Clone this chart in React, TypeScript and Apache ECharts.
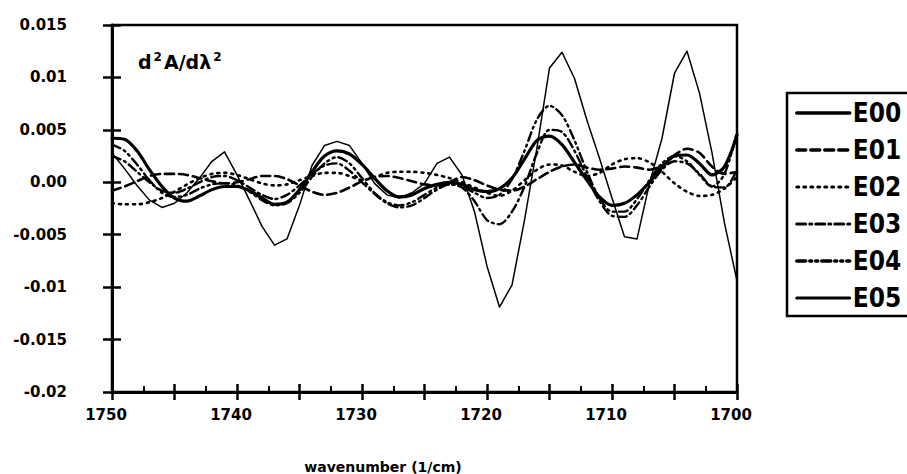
import React, { useEffect, useRef } from "react";
import * as echarts from "echarts";

const wavenumbers: number[] = [
  1750, 1749, 1748, 1747, 1746, 1745, 1744, 1743, 1742, 1741,
  1740, 1739, 1738, 1737, 1736, 1735, 1734, 1733, 1732, 1731,
  1730, 1729, 1728, 1727, 1726, 1725, 1724, 1723, 1722, 1721,
  1720, 1719, 1718, 1717, 1716, 1715, 1714, 1713, 1712, 1711,
  1710, 1709, 1708, 1707, 1706, 1705, 1704, 1703, 1702, 1701, 1700,
];

const E00: number[] = [
  0.0042, 0.0041, 0.0030, 0.0012, -0.0004, -0.0015, -0.0018, -0.0013, -0.0007, -0.0004,
  -0.0004, -0.0008, -0.0015, -0.0021, -0.0019, -0.0007, 0.0010, 0.0025, 0.0030, 0.0027,
  0.0017, 0.0004, -0.0008, -0.0014, -0.0012, -0.0006, -0.0002, 0.0000, -0.0002, -0.0007,
  -0.0009, -0.0006, 0.0004, 0.0022, 0.0040, 0.0044, 0.0036, 0.0019, 0.0002, -0.0014,
  -0.0022, -0.0020, -0.0012, 0.0000, 0.0014, 0.0025, 0.0026, 0.0018, 0.0007, 0.0015, 0.0045,
];

const E01: number[] = [
  -0.0008, -0.0004, 0.0001, 0.0006, 0.0008, 0.0008, 0.0007, 0.0004, 0.0001, -0.0001,
  0.0000, 0.0003, 0.0006, 0.0006, 0.0003, -0.0003, -0.0009, -0.0012, -0.0010, -0.0005,
  0.0001, 0.0005, 0.0006, 0.0004, 0.0001, -0.0002, -0.0003, 0.0000, 0.0005, 0.0002,
  -0.0003, -0.0007, -0.0008, -0.0004, 0.0003, 0.0010, 0.0015, 0.0017, 0.0014, 0.0012,
  0.0013, 0.0015, 0.0014, 0.0012, 0.0016, 0.0026, 0.0032, 0.0028, 0.0015, 0.0008, 0.0010,
];

const E02: number[] = [
  -0.0020, -0.0021, -0.0021, -0.0019, -0.0015, -0.0009, -0.0002, 0.0004, 0.0008, 0.0009,
  0.0007, 0.0003, -0.0001, -0.0003, -0.0002, 0.0002, 0.0006, 0.0009, 0.0009, 0.0006,
  0.0002, 0.0005, 0.0009, 0.0010, 0.0010, 0.0009, 0.0007, 0.0004, 0.0000, -0.0005,
  -0.0010, -0.0013, -0.0008, 0.0002, 0.0012, 0.0017, 0.0016, 0.0010, 0.0006, 0.0009,
  0.0017, 0.0022, 0.0023, 0.0019, 0.0010, -0.0001, -0.0009, -0.0013, -0.0012, -0.0006, 0.0005,
];

const E03: number[] = [
  0.0025, 0.0020, 0.0010, 0.0000, -0.0008, -0.0010, -0.0006, 0.0000, 0.0005, 0.0006,
  0.0002, -0.0005, -0.0012, -0.0016, -0.0012, -0.0003, 0.0008, 0.0016, 0.0018, 0.0011,
  0.0000, -0.0011, -0.0020, -0.0024, -0.0022, -0.0015, -0.0007, -0.0002, -0.0005, -0.0018,
  -0.0036, -0.0040, -0.0028, -0.0004, 0.0028, 0.0050, 0.0048, 0.0030, 0.0005, -0.0018,
  -0.0032, -0.0033, -0.0022, -0.0004, 0.0012, 0.0020, 0.0018, 0.0008, -0.0004, -0.0005, 0.0012,
];

const E04: number[] = [
  0.0036, 0.0030, 0.0017, 0.0002, -0.0010, -0.0014, -0.0012, -0.0006, -0.0002, -0.0001,
  -0.0003, -0.0009, -0.0017, -0.0022, -0.0020, -0.0010, 0.0005, 0.0018, 0.0024, 0.0018,
  0.0004, -0.0010, -0.0019, -0.0022, -0.0019, -0.0012, -0.0005, -0.0002, -0.0004, -0.0010,
  -0.0015, -0.0012, 0.0003, 0.0030, 0.0060, 0.0073, 0.0064, 0.0040, 0.0010, -0.0015,
  -0.0028, -0.0028, -0.0016, 0.0002, 0.0018, 0.0025, 0.0020, 0.0007, -0.0004, 0.0008, 0.0048,
];

const E05: number[] = [
  0.0028, 0.0013, -0.0003, -0.0017, -0.0024, -0.0020, -0.0010, 0.0004, 0.0020, 0.0029,
  0.0007, -0.0017, -0.0042, -0.0060, -0.0054, -0.0022, 0.0016, 0.0035, 0.0039, 0.0035,
  0.0018, -0.0001, -0.0012, -0.0015, -0.0010, -0.0001, 0.0018, 0.0024, 0.0007, -0.0028,
  -0.0080, -0.0119, -0.0098, -0.0036, 0.0033, 0.0109, 0.0124, 0.0099, 0.0059, 0.0023,
  -0.0015, -0.0052, -0.0054, -0.0001, 0.0042, 0.0104, 0.0125, 0.0085, 0.0028, -0.0039, -0.0094,
];

const seriesNames: string[] = ["E00", "E01", "E02", "E03", "E04", "E05"];
const xTickLabels: string[] = ["1750", "1740", "1730", "1720", "1710", "1700"];
const yTickLabels: string[] = ["-0.02", "-0.015", "-0.01", "-0.005", "0.00", "0.005", "0.01", "0.015"];

const FONT = "'DejaVu Sans', 'Liberation Sans', sans-serif";
const LEGEND_FONT = "'DejaVu Sans Condensed', 'Liberation Sans Narrow', 'DejaVu Sans', sans-serif";

export default function App() {
  const ref = useRef<HTMLDivElement>(null);

  useEffect(() => {
    if (!ref.current) return;
    const chart = echarts.init(ref.current, undefined, { renderer: "svg" });

    const values = [E00, E01, E02, E03, E04, E05];
    const styles: any[] = [
      { width: 3.2, type: "solid", legendWidth: 3.5 },
      { width: 2.6, type: [9, 5], legendWidth: 3.5 },
      { width: 2.6, type: [2, 5], legendWidth: 3 },
      { width: 2.4, type: [9, 4, 2, 4], legendWidth: 3 },
      { width: 2.4, type: [9, 4, 2, 4, 2, 4], legendWidth: 3.5 },
      { width: 1.5, type: "solid", legendWidth: 3 },
    ];

    const series = seriesNames.map((name, i) => ({
      name,
      type: "line",
      xAxisIndex: 0,
      yAxisIndex: 0,
      symbol: "none",
      smooth: i === 5 ? false : 0.3,
      lineStyle: { color: "#000", width: styles[i].width, type: styles[i].type, cap: "round", join: "round" },
      itemStyle: { color: "#000" },
      data: wavenumbers.map((w, k) => [w, values[i][k]]),
      z: 3,
    }));

    const legendData = seriesNames.map((name, i) => ({
      name,
      itemStyle: { opacity: 0 },
      lineStyle: { color: "#000", width: styles[i].legendWidth, type: styles[i].type, cap: "round" },
    }));

    const yLabel = (v: number) => {
      const idx = Math.round((v + 0.02) / 0.005);
      return yTickLabels[idx] ?? "";
    };

    const option: any = {
      animation: false,
      backgroundColor: "#fff",
      grid: {
        left: 112,
        right: 170,
        top: 25,
        bottom: 82,
        show: true,
        borderColor: "#000",
        borderWidth: 2.5,
        backgroundColor: "transparent",
      },
      xAxis: [
        {
          type: "value",
          min: 1700,
          max: 1750,
          interval: 5,
          inverse: true,
          position: "bottom",
          axisLine: { show: true, onZero: false, lineStyle: { color: "#000", width: 3 } },
          axisTick: { show: true, inside: false, length: 8, lineStyle: { color: "#000", width: 2.5 } },
          splitLine: { show: false },
          axisLabel: {
            show: true,
            margin: 15,
            padding: [0, 12, 0, 0],
            color: "#000",
            fontFamily: FONT,
            fontWeight: "bold",
            fontSize: 15,
            showMinLabel: true,
            showMaxLabel: true,
            formatter: (v: number) => (xTickLabels.includes(String(Math.round(v))) ? String(Math.round(v)) : ""),
          },
        },
        {
          type: "value",
          min: 1700,
          max: 1750,
          interval: 5,
          inverse: true,
          position: "bottom",
          axisLine: { show: false, onZero: false },
          axisTick: { show: true, inside: true, length: 8, lineStyle: { color: "#000", width: 2.5 } },
          minorTick: { show: true, splitNumber: 2, length: 6, lineStyle: { color: "#000", width: 2 } },
          splitLine: { show: false },
          minorSplitLine: { show: false },
          axisLabel: { show: false },
        },
      ],
      yAxis: [
        {
          type: "value",
          min: -0.02,
          max: 0.015,
          interval: 0.005,
          position: "left",
          axisLine: { show: true, onZero: false, lineStyle: { color: "#000", width: 3 } },
          axisTick: { show: true, inside: false, length: 9, lineStyle: { color: "#000", width: 2.5 } },
          splitLine: { show: false },
          axisLabel: {
            show: true,
            margin: 45,
            padding: [0, 0, 12, 0],
            color: "#000",
            fontFamily: FONT,
            fontWeight: "bold",
            fontSize: 15,
            formatter: yLabel,
          },
        },
        {
          type: "value",
          min: -0.02,
          max: 0.015,
          interval: 0.005,
          position: "left",
          axisLine: { show: false, onZero: false },
          axisTick: { show: true, inside: true, length: 9, lineStyle: { color: "#000", width: 2.5 } },
          splitLine: { show: false },
          axisLabel: { show: false },
        },
      ],
      legend: {
        show: true,
        orient: "vertical",
        left: 787,
        top: 93,
        padding: [7, 8, 5, 8],
        itemWidth: 53,
        itemHeight: 14,
        itemGap: 11,
        borderColor: "#000",
        borderWidth: 2.5,
        borderRadius: 0,
        backgroundColor: "#fff",
        selectedMode: false,
        itemStyle: { opacity: 0 },
        textStyle: {
          color: "#000",
          fontFamily: LEGEND_FONT,
          fontWeight: "bold",
          fontSize: 26,
          padding: [0, 0, 0, -2],
        },
        data: legendData,
      },
      graphic: [
        {
          type: "text",
          left: 138,
          top: 51,
          style: {
            text: "d{s|2}A/dλ{s|2}",
            fill: "#000",
            font: `bold 19px ${FONT}`,
            rich: {
              s: { fontSize: 12, fontWeight: "bold", fontFamily: FONT, verticalAlign: "top", padding: [0, 2, 9, 2] },
            },
          },
          z: 10,
        },
        {
          type: "text",
          x: 383,
          y: 467,
          style: {
            text: "wavenumber (1/cm)",
            fill: "#000",
            font: `bold 14px ${FONT}`,
            align: "center",
            verticalAlign: "middle",
          },
          z: 10,
        },
      ],
      series,
    };

    chart.setOption(option);
    return () => chart.dispose();
  }, []);

  return (
    <div
      ref={ref}
      style={{ position: "fixed", left: 0, top: 0, width: 907, height: 474, background: "#fff" }}
    />
  );
}
